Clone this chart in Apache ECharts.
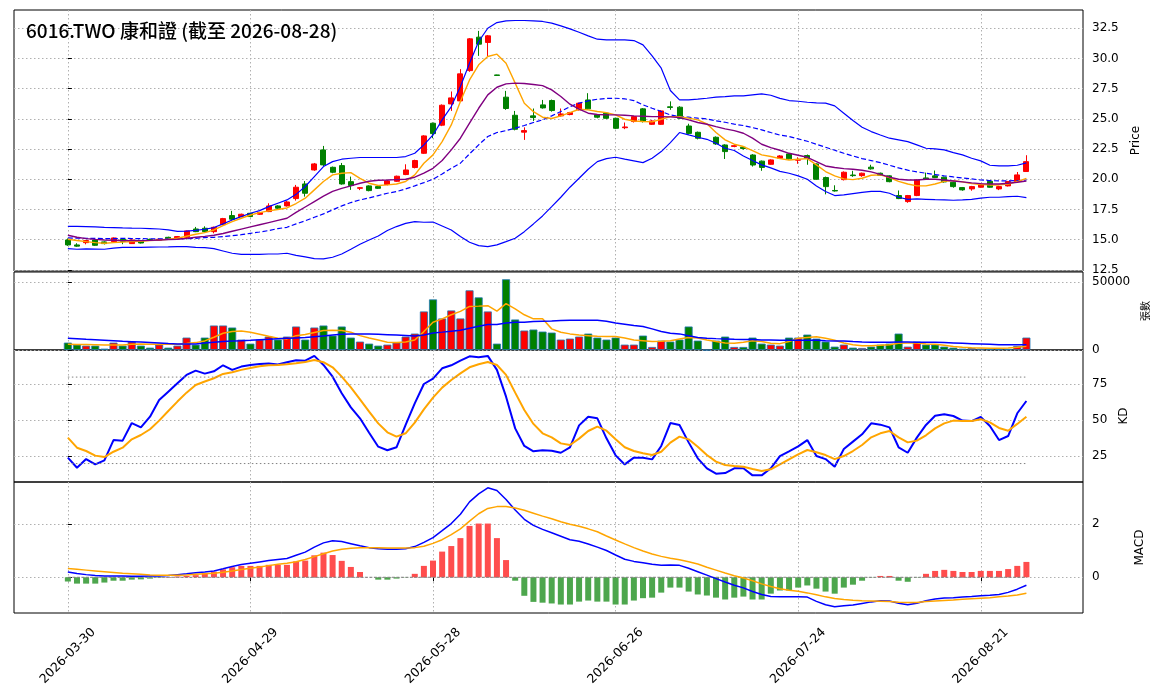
<!DOCTYPE html>
<html>
<head>
<meta charset="utf-8">
<script src="https://cdn.jsdelivr.net/npm/echarts@6.0.0/dist/echarts.min.js"></script>
<style>
html, body { margin: 0; padding: 0; background: #fff; }
#chart { width: 1163px; height: 698px; }
</style>
</head>
<body>
<div id="chart"></div>
<script>
// trading days shown on the chart
const dates = [
  '2026-03-30','2026-03-31','2026-04-01','2026-04-02','2026-04-07','2026-04-08','2026-04-09','2026-04-10','2026-04-13','2026-04-14',
  '2026-04-15','2026-04-16','2026-04-17','2026-04-20','2026-04-21','2026-04-22','2026-04-23','2026-04-24','2026-04-27','2026-04-28',
  '2026-04-29','2026-04-30','2026-05-04','2026-05-05','2026-05-06','2026-05-07','2026-05-08','2026-05-11','2026-05-12','2026-05-13',
  '2026-05-14','2026-05-15','2026-05-18','2026-05-19','2026-05-20','2026-05-21','2026-05-22','2026-05-25','2026-05-26','2026-05-27',
  '2026-05-28','2026-05-29','2026-06-01','2026-06-02','2026-06-03','2026-06-04','2026-06-05','2026-06-08','2026-06-09','2026-06-10',
  '2026-06-11','2026-06-12','2026-06-15','2026-06-16','2026-06-17','2026-06-18','2026-06-22','2026-06-23','2026-06-24','2026-06-25',
  '2026-06-26','2026-06-29','2026-06-30','2026-07-01','2026-07-02','2026-07-03','2026-07-06','2026-07-07','2026-07-08','2026-07-09',
  '2026-07-10','2026-07-13','2026-07-14','2026-07-15','2026-07-16','2026-07-17','2026-07-20','2026-07-21','2026-07-22','2026-07-23',
  '2026-07-24','2026-07-27','2026-07-28','2026-07-29','2026-07-30','2026-07-31','2026-08-03','2026-08-04','2026-08-05','2026-08-06',
  '2026-08-07','2026-08-10','2026-08-11','2026-08-12','2026-08-13','2026-08-14','2026-08-17','2026-08-18','2026-08-19','2026-08-20',
  '2026-08-21','2026-08-24','2026-08-25','2026-08-26','2026-08-27','2026-08-28'
];

const opens = [
  14.97,14.56,14.75,14.97,14.81,14.83,15.03,14.67,14.89,15.02,
  14.95,15.19,15.06,15.19,15.88,15.94,15.66,16.24,16.99,16.91,
  17.18,17.10,17.32,17.79,17.79,18.40,19.61,20.77,22.43,20.99,
  21.13,19.80,19.25,19.45,19.39,19.56,19.83,20.39,20.97,22.15,
  24.64,24.48,26.24,26.49,29.00,31.77,31.33,28.64,26.80,25.30,
  23.90,25.25,26.16,26.52,25.25,25.36,25.75,26.57,25.33,25.47,
  25.05,24.27,24.78,25.83,24.55,24.55,26.00,25.97,24.41,23.89,
  null,23.48,22.84,22.72,22.65,22.01,21.50,21.24,21.74,22.10,
  21.58,21.96,21.27,20.14,19.07,19.97,20.35,20.30,21.00,20.50,
  20.28,18.65,18.15,18.65,20.11,20.28,20.17,19.75,19.31,19.20,
  19.34,19.83,19.20,19.45,19.81,20.64
];
const closes = [
  14.56,14.46,14.92,14.53,14.67,15.14,14.86,14.97,14.72,14.97,
  15.03,15.03,15.25,15.72,15.66,15.66,16.02,16.74,16.69,17.10,
  16.91,17.24,17.79,17.60,18.12,19.34,18.84,21.27,21.19,20.58,
  19.61,19.48,19.30,19.06,19.25,19.86,20.25,20.77,21.55,23.59,
  23.78,26.13,26.74,28.73,31.63,31.19,31.88,28.60,25.86,24.14,
  24.03,25.11,25.91,25.69,25.41,25.52,26.30,25.83,25.14,25.05,
  24.22,24.33,25.19,24.78,24.83,25.66,25.95,25.05,23.80,23.40,
  null,22.93,22.29,22.78,22.55,21.18,20.98,21.60,21.93,21.69,
  21.62,21.74,20.00,19.39,19.03,20.58,20.30,20.50,20.86,20.33,
  19.80,18.40,18.65,19.94,20.00,20.14,19.78,19.39,19.12,19.39,
  19.59,19.34,19.39,19.81,20.36,21.46
];
const highs = [
  15.10,14.70,14.95,15.00,14.86,15.18,15.08,15.02,14.94,15.08,
  15.08,15.24,15.30,15.76,16.05,16.10,16.08,16.80,17.38,17.15,
  17.22,17.30,18.01,17.85,18.20,19.53,19.85,21.35,22.76,21.05,
  21.35,20.22,19.35,19.50,19.45,19.92,20.30,21.24,21.62,23.65,
  24.70,26.20,27.27,29.12,31.70,32.29,31.95,28.66,27.32,25.66,
  24.30,25.86,26.57,26.60,25.86,25.58,26.35,27.13,25.40,25.52,
  25.10,24.70,25.25,25.90,24.90,25.72,26.45,26.05,24.60,23.95,
  null,23.55,22.90,22.90,22.75,22.08,21.55,21.65,22.00,22.18,
  21.82,22.05,21.32,20.22,19.50,20.65,20.70,20.55,21.20,20.55,
  20.32,19.07,18.70,20.00,20.55,20.72,20.22,19.80,19.36,19.45,
  19.65,19.90,19.45,19.86,20.60,21.99
];
const lows = [
  14.48,14.40,14.61,14.48,14.60,14.80,14.62,14.64,14.68,14.92,
  14.92,14.98,15.02,15.14,15.62,15.60,15.52,16.20,16.62,16.85,
  16.85,17.05,17.28,17.55,17.74,18.23,18.56,20.70,21.10,20.50,
  19.55,19.12,19.10,19.00,19.20,19.50,19.78,20.34,20.90,22.10,
  23.40,24.40,25.66,26.40,28.90,30.22,30.17,28.58,25.75,24.05,
  23.26,24.83,25.85,25.60,25.20,25.30,25.70,25.78,25.05,25.00,
  24.15,24.15,24.70,24.70,24.50,24.50,25.75,25.00,23.70,23.30,
  null,22.85,21.68,22.65,22.45,21.05,20.70,21.20,21.70,21.62,
  21.28,21.20,19.95,18.75,18.98,19.90,20.20,20.20,20.80,20.28,
  19.75,18.35,18.05,18.60,19.95,20.10,19.72,19.30,19.05,19.05,
  19.30,19.30,19.10,19.40,19.76,20.60
];

// price overlays (Bollinger 20, MA5, MA10)
const bbUpper = [
  16.10,16.09,16.08,16.05,16.02,16.00,15.97,15.95,15.94,15.91,
  15.88,15.80,15.69,15.70,15.77,15.86,16.00,16.30,16.63,16.90,
  17.18,17.40,17.73,18.01,18.29,18.75,19.40,20.22,21.05,21.46,
  21.66,21.74,21.80,21.80,21.80,21.80,21.80,21.88,22.15,22.85,
  23.67,24.92,26.02,27.68,29.61,31.41,32.51,32.98,33.12,33.15,
  33.15,33.12,33.07,32.93,32.71,32.46,32.18,31.88,31.60,31.55,
  31.55,31.55,31.49,31.13,30.22,29.20,27.35,26.57,26.57,26.63,
  26.71,26.80,26.85,26.91,26.91,26.99,27.07,26.96,26.70,26.52,
  26.46,26.38,26.33,26.30,26.08,25.47,24.86,24.31,23.95,23.67,
  23.40,23.26,23.12,22.85,22.57,22.51,22.43,22.21,22.02,21.74,
  21.52,21.16,21.10,21.10,21.16,21.35
];
const bbLower = [
  14.25,14.20,14.23,14.22,14.20,14.30,14.36,14.36,14.36,14.38,
  14.39,14.40,14.42,14.42,14.36,14.33,14.25,14.06,13.87,13.78,
  13.78,13.78,13.81,13.81,13.87,13.70,13.57,13.43,13.40,13.54,
  13.81,14.20,14.61,14.97,15.30,15.75,16.08,16.35,16.49,16.44,
  16.46,16.13,15.80,15.25,14.78,14.50,14.42,14.56,14.83,15.11,
  15.66,16.30,16.96,17.73,18.51,19.34,20.08,20.83,21.46,21.71,
  21.82,21.66,21.52,21.38,21.74,22.29,23.04,23.87,23.67,23.48,
  23.31,22.98,22.57,22.38,21.93,21.55,21.19,20.94,20.65,20.50,
  20.28,20.00,19.45,18.98,18.65,18.70,18.81,18.92,19.00,19.00,
  18.84,18.51,18.34,18.37,18.34,18.31,18.29,18.26,18.29,18.34,
  18.43,18.51,18.51,18.56,18.59,18.48
];
const bbMid = [
  15.14,15.12,15.11,15.10,15.08,15.08,15.10,15.09,15.08,15.07,
  15.06,15.07,15.08,15.08,15.11,15.17,15.19,15.25,15.33,15.41,
  15.52,15.63,15.75,15.91,16.02,16.30,16.56,16.85,17.13,17.46,
  17.79,18.07,18.29,18.45,18.65,18.84,18.98,19.20,19.45,19.72,
  20.00,20.44,20.91,21.33,22.10,22.85,23.54,23.87,24.03,24.23,
  24.45,24.70,24.92,25.25,25.61,26.02,26.30,26.49,26.63,26.69,
  26.71,26.66,26.52,26.16,25.88,25.61,25.33,25.19,25.14,25.06,
  25.00,24.83,24.72,24.56,24.45,24.28,24.09,23.87,23.66,23.54,
  23.34,23.15,22.90,22.65,22.40,22.15,21.93,21.71,21.55,21.38,
  21.16,20.94,20.75,20.61,20.50,20.39,20.28,20.19,20.11,20.03,
  19.94,19.89,19.86,19.86,19.89,19.94
];
const ma5 = [
  15.03,14.93,14.83,14.75,14.70,14.75,14.80,14.83,14.86,14.92,
  14.97,15.03,15.11,15.28,15.44,15.58,15.80,16.16,16.49,16.77,
  17.04,17.24,17.38,17.49,17.62,17.99,18.43,19.12,19.81,20.36,
  20.50,20.55,20.08,19.67,19.48,19.53,19.61,19.81,20.36,21.33,
  22.02,23.12,24.50,26.44,28.23,29.48,30.17,30.36,29.61,27.96,
  26.30,25.60,25.14,25.03,25.25,25.52,25.80,25.75,25.61,25.52,
  25.33,24.97,24.83,24.78,24.75,24.97,25.19,25.19,25.06,24.92,
  24.59,23.87,23.26,22.90,22.71,22.38,22.02,21.88,21.71,21.60,
  21.66,21.71,21.19,20.64,20.28,20.03,19.97,20.08,20.33,20.36,
  20.14,19.83,19.61,19.45,19.45,19.61,19.83,19.89,19.78,19.64,
  19.56,19.53,19.53,19.61,19.81,20.08
];
const ma10 = [
  15.36,15.20,15.08,15.02,14.97,14.95,14.92,14.92,14.92,14.94,
  14.97,15.00,15.03,15.10,15.19,15.27,15.36,15.51,15.69,15.87,
  16.05,16.23,16.41,16.59,16.77,17.25,17.70,18.15,18.60,19.00,
  19.25,19.45,19.67,19.83,19.92,19.94,19.97,20.00,20.17,20.50,
  20.91,21.55,22.43,23.40,24.64,25.88,26.99,27.62,27.90,27.96,
  27.93,27.85,27.76,27.40,26.85,26.22,25.80,25.47,25.36,25.33,
  25.33,25.30,25.25,25.22,25.19,25.19,25.17,25.11,24.92,24.70,
  24.56,24.36,24.17,24.03,23.81,23.40,22.90,22.62,22.40,22.15,
  21.99,21.82,21.46,21.10,20.97,20.88,20.83,20.75,20.61,20.41,
  20.17,20.00,19.94,19.94,20.00,20.00,19.94,19.86,19.78,19.70,
  19.64,19.61,19.61,19.67,19.75,19.86
];

// volume (張) and its moving averages
const volumes = [
  5450,3960,3220,3220,990,5450,3220,6190,3220,1730,
  3960,1730,3220,9160,3960,9160,18070,18070,16580,7670,
  4700,7670,9900,7670,9900,17330,7670,16580,18070,10640,
  17330,9160,6190,4700,3220,3960,5450,9900,12130,28460,
  37370,23270,29200,23270,44060,38860,28460,4700,52220,22520,
  14360,15100,13610,12870,7670,8410,9900,12130,9160,7670,
  9160,3960,3960,10640,2230,6930,6190,7670,17330,6930,
  0,6930,9900,2230,2230,9160,4700,3960,3220,9160,
  9160,11390,8410,6190,2480,3960,1730,1490,2480,3960,
  4700,12130,2480,6190,3960,3960,2480,1730,990,1490,
  990,740,740,740,2970,9160
];
const volMa5 = [
  4200,4100,4000,3850,3700,3700,3750,4200,4450,4300,
  4200,4200,4200,4800,5450,6700,9400,12400,13600,14100,
  13100,11600,10100,8700,8200,10600,11400,12900,14400,14600,
  14400,13100,10600,8900,7400,5700,5450,5900,7400,13600,
  20500,23000,26000,28500,32200,32400,32700,28700,34200,30400,
  26000,23000,23000,15600,13100,11900,11100,10600,10100,9900,
  9900,8900,7400,6900,6200,6400,6900,8200,9200,8900,
  7400,6200,5200,4950,5700,6900,6200,4950,4700,6200,
  8700,9200,9700,8700,7200,5200,3960,3200,3200,3500,
  3960,4950,5200,5200,4450,4200,3500,2500,2000,1730,
  1500,1240,1240,1500,2000,2700
];
const volMa20 = [
  8700,8300,7900,7550,7200,6800,6400,6150,5900,5550,
  5200,4800,4450,4400,4500,5200,5700,6200,6700,6900,
  7200,7550,7900,8300,8700,8950,9200,9800,10400,11000,
  11600,11750,11900,11750,11600,11350,11100,10750,10400,11100,
  12600,13200,13900,14600,16100,17600,18800,18800,20000,20500,
  20500,21000,21300,21500,21800,22000,22000,22000,22000,21300,
  20000,19100,18100,17300,15600,13600,12400,11900,10600,9200,
  8700,8400,8200,7900,7700,7700,7400,7400,7200,7200,
  7200,7200,7200,6900,6700,6700,6200,5900,5700,5700,
  5700,5900,5900,5700,5700,5700,5450,5200,4950,4700,
  4450,4200,3960,3960,3960,3960
];

// KD
const kLine = [
  24.1,17.1,23.1,19.4,22.2,36.3,35.9,48.1,45.1,52.5,
  64.1,69.9,75.7,81.5,84.5,82.4,84.0,88.2,85.0,87.3,
  88.4,89.1,89.4,88.7,90.3,91.7,91.4,94.7,88.4,80.3,
  68.8,59.0,51.4,41.4,31.7,29.2,31.3,46.8,61.8,75.2,
  78.9,86.1,88.2,91.4,94.4,93.7,94.7,85.0,66.4,44.4,
  32.2,28.5,29.2,28.9,27.5,31.3,46.5,52.5,51.4,37.5,
  25.7,19.4,24.1,24.1,22.9,32.2,48.1,46.8,34.7,23.6,
  16.7,13.0,13.4,16.7,16.7,11.8,11.8,16.7,25.2,28.5,
  31.9,36.3,25.2,23.1,17.8,30.1,35.2,40.3,47.9,47.0,
  45.1,31.3,27.5,38.0,46.8,53.2,54.2,53.0,49.8,49.5,
  52.3,46.1,36.3,39.1,54.9,63.4
];
const dLine = [
  38.0,31.0,28.7,25.5,24.5,28.2,31.0,36.8,39.8,43.8,
  49.8,56.5,63.0,69.2,74.5,76.9,79.2,82.2,83.3,85.0,
  86.3,87.5,88.2,88.4,88.9,89.6,90.5,91.9,90.3,86.8,
  80.3,72.9,64.6,56.0,47.9,41.7,38.7,41.0,48.4,57.6,
  65.7,72.7,78.0,82.6,86.8,88.9,90.5,88.4,81.5,69.2,
  57.2,47.5,41.0,38.2,34.0,32.9,37.3,42.6,45.6,42.8,
  36.8,31.3,28.7,27.1,25.9,28.2,34.5,38.7,36.8,31.7,
  25.9,21.3,19.0,18.3,17.8,16.2,14.8,16.0,19.4,22.9,
  26.4,29.4,27.8,25.9,23.1,25.2,28.7,32.9,38.2,41.0,
  42.6,38.2,34.7,35.9,39.6,44.4,47.9,49.8,49.5,49.5,
  50.7,48.6,44.7,42.8,47.5,52.5
];
const kdLevels = [20, 80];

// MACD
const dif = [
  0.20,0.14,0.10,0.07,0.05,0.05,0.05,0.04,0.04,0.05,
  0.05,0.07,0.10,0.13,0.17,0.20,0.24,0.32,0.41,0.48,
  0.53,0.58,0.63,0.67,0.71,0.83,0.95,1.14,1.30,1.38,
  1.35,1.27,1.19,1.12,1.08,1.06,1.06,1.08,1.16,1.32,
  1.50,1.76,2.03,2.38,2.85,3.15,3.38,3.28,2.94,2.54,
  2.19,1.96,1.81,1.68,1.55,1.42,1.36,1.26,1.14,1.01,
  0.84,0.68,0.60,0.55,0.49,0.45,0.46,0.45,0.34,0.21,
  0.08,-0.05,-0.18,-0.30,-0.40,-0.54,-0.65,-0.73,-0.74,-0.74,
  -0.74,-0.75,-0.91,-1.04,-1.11,-1.08,-1.05,-0.99,-0.93,-0.89,
  -0.90,-0.98,-1.04,-0.98,-0.89,-0.82,-0.78,-0.77,-0.75,-0.73,
  -0.70,-0.68,-0.65,-0.57,-0.45,-0.30
];
const dea = [
  0.33,0.30,0.27,0.24,0.21,0.18,0.15,0.13,0.11,0.09,
  0.08,0.08,0.08,0.09,0.11,0.13,0.15,0.19,0.24,0.29,
  0.34,0.39,0.44,0.49,0.53,0.59,0.67,0.78,0.89,0.99,
  1.06,1.10,1.12,1.12,1.12,1.11,1.11,1.11,1.12,1.17,
  1.28,1.42,1.61,1.83,2.12,2.40,2.60,2.67,2.67,2.62,
  2.53,2.42,2.31,2.21,2.10,2.00,1.93,1.83,1.72,1.56,
  1.41,1.26,1.12,0.99,0.88,0.79,0.72,0.66,0.59,0.50,
  0.38,0.27,0.16,0.06,-0.03,-0.13,-0.25,-0.35,-0.43,-0.49,
  -0.53,-0.59,-0.66,-0.74,-0.80,-0.84,-0.87,-0.89,-0.90,-0.91,
  -0.92,-0.94,-0.95,-0.95,-0.92,-0.90,-0.88,-0.86,-0.83,-0.81,
  -0.79,-0.77,-0.74,-0.71,-0.67,-0.60
];
const macdHist = [
  -0.16,-0.24,-0.24,-0.24,-0.20,-0.13,-0.13,-0.09,-0.08,-0.05,
  -0.02,0.01,0.03,0.05,0.08,0.15,0.21,0.30,0.38,0.43,
  0.43,0.43,0.47,0.47,0.47,0.60,0.63,0.83,0.93,0.84,
  0.62,0.39,0.20,0.00,-0.09,-0.09,-0.05,-0.01,0.13,0.43,
  0.63,0.97,1.18,1.48,1.94,2.03,2.03,1.48,0.65,-0.13,
  -0.70,-0.93,-0.96,-0.99,-1.03,-1.03,-0.92,-0.88,-0.92,-0.92,
  -1.03,-1.03,-0.88,-0.79,-0.77,-0.58,-0.39,-0.39,-0.54,-0.65,
  -0.69,-0.77,-0.84,-0.77,-0.73,-0.84,-0.84,-0.62,-0.50,-0.50,
  -0.39,-0.31,-0.43,-0.54,-0.62,-0.39,-0.28,-0.13,-0.01,0.05,
  0.05,-0.13,-0.17,-0.01,0.13,0.24,0.28,0.24,0.20,0.20,
  0.24,0.24,0.24,0.31,0.43,0.58
];

// axis ticks
const dateTicks = [0, 20, 40, 60, 80, 100];
const priceTicks = [12.5, 15, 17.5, 20, 22.5, 25, 27.5, 30, 32.5];
const volTicks = [0, 50000];
const kdTicks = [25, 50, 75];
const macdTicks = [0, 2];

const UP = '#ff0000', DOWN = '#008000';
const FONT = 'DejaVu Sans';
const gridLine = { show: true, lineStyle: { color: '#b0b0b0', type: [1.5, 2.5], width: 1 } };

const chart = echarts.init(document.getElementById('chart'));

const pair = (arr) => arr.map((v, i) => [i, v]);
const lastIdx = dates.length - 1;

const candleData = [];
opens.forEach((o, i) => {
  if (o == null) return;
  candleData.push([i, o, closes[i], lows[i], highs[i]]);
});
const volData = volumes.map((v, i) => ({
  value: [i, v],
  itemStyle: { color: (closes[i] != null && closes[i] >= opens[i]) ? UP : DOWN }
}));
const histData = macdHist.map((v, i) => ({
  value: [i, v],
  itemStyle: { color: v >= 0 ? '#ff4d4d' : '#4da64d' }
}));

function xAxisFor(gi, bottom) {
  return {
    type: 'value', gridIndex: gi, min: -5.9, max: 111.2,
    axisLine: { show: false },
    axisTick: { show: bottom, customValues: dateTicks, length: 4, lineStyle: { color: '#000' } },
    axisLabel: {
      show: bottom, customValues: dateTicks,
      formatter: (v) => dates[v],
      rotate: 45, align: 'center', verticalAlign: 'middle', margin: 43,
      fontSize: 12.5, color: '#000', fontFamily: FONT
    },
    splitLine: gridLine
  };
}

function yAxisFor(gi, min, max, ticks, fmt, name, nameGap, nameSize) {
  return {
    type: 'value', gridIndex: gi, position: 'right', min: min, max: max,
    axisLine: { show: false },
    axisTick: { show: true, customValues: ticks, length: 4, lineStyle: { color: '#000' } },
    axisLabel: { customValues: ticks, formatter: fmt, margin: 9, fontSize: 12, color: '#000', fontFamily: FONT },
    splitLine: gridLine,
    name: name, nameLocation: 'middle', nameRotate: 90, nameGap: nameGap,
    nameTextStyle: { fontSize: nameSize, color: '#000', fontFamily: FONT + ', Noto Sans CJK TC' }
  };
}

function lineSeries(data, xi, color, width, dash) {
  return {
    type: 'line', xAxisIndex: xi, yAxisIndex: xi, data: data,
    showSymbol: false, symbol: 'none', silent: true,
    lineStyle: { color: color, width: width, type: dash || 'solid' },
    z: 3
  };
}

const borderGrid = { show: true, borderColor: '#000', borderWidth: 1, backgroundColor: 'transparent' };

chart.setOption({
  animation: false,
  backgroundColor: '#fff',
  title: {
    text: '6016.TWO 康和證 (截至 2026-08-28)',
    left: 26, top: 21, padding: 0,
    textStyle: { fontSize: 19, fontWeight: 500, color: '#000', fontFamily: 'Noto Sans CJK TC' }
  },
  grid: [
    Object.assign({ left: 14, right: 80, top: 10, height: 261 }, borderGrid),
    Object.assign({ left: 14, right: 80, top: 272, height: 78 }, borderGrid),
    Object.assign({ left: 14, right: 80, top: 350, height: 132 }, borderGrid),
    Object.assign({ left: 14, right: 80, top: 482, height: 131 }, borderGrid)
  ],
  xAxis: [xAxisFor(0, false), xAxisFor(1, false), xAxisFor(2, false), xAxisFor(3, true)],
  yAxis: [
    yAxisFor(0, 12.4, 34.02, priceTicks, (v) => v.toFixed(1), 'Price', 44, 12),
    yAxisFor(1, 0, 57600, volTicks, (v) => String(v), '張數', 58, 10),
    yAxisFor(2, 7.2, 98.8, kdTicks, (v) => String(v), 'KD', 32, 12),
    yAxisFor(3, -1.35, 3.6, macdTicks, (v) => String(v), 'MACD', 51, 12)
  ],
  series: [
    {
      type: 'candlestick', xAxisIndex: 0, yAxisIndex: 0, data: candleData,
      barWidth: 5.5, silent: true,
      itemStyle: { color: UP, color0: DOWN, borderColor: UP, borderColor0: DOWN, borderWidth: 1 },
      z: 2
    },
    lineSeries(pair(bbUpper), 0, '#0000ff', 1.2),
    lineSeries(pair(bbLower), 0, '#0000ff', 1.2),
    lineSeries(pair(bbMid), 0, '#0000ff', 1.2, [5, 2.5]),
    lineSeries(pair(ma5), 0, '#ffa500', 1.4),
    lineSeries(pair(ma10), 0, '#800080', 1.4),

    {
      type: 'bar', xAxisIndex: 1, yAxisIndex: 1, data: volData,
      barWidth: 8, silent: true,
      itemStyle: { borderColor: '#1f77b4', borderWidth: 0.8 }
    },
    lineSeries(pair(volMa5), 1, '#ffa500', 1.5),
    lineSeries(pair(volMa20), 1, '#0000ff', 1.5),

    lineSeries(pair(kLine), 2, '#0000ff', 2),
    lineSeries(pair(dLine), 2, '#ffa500', 2),
    ...kdLevels.map((lv) => lineSeries([[0, lv], [lastIdx, lv]], 2, '#808080', 1, [1.5, 2.5])),

    {
      type: 'bar', xAxisIndex: 3, yAxisIndex: 3, data: histData,
      barWidth: 6, silent: true
    },
    lineSeries([[0, 0], [lastIdx, 0]], 3, '#808080', 1, [3, 1.5]),
    lineSeries(pair(dif), 3, '#0000ff', 1.5),
    lineSeries(pair(dea), 3, '#ffa500', 1.5)
  ]
});
</script>
</body>
</html>
